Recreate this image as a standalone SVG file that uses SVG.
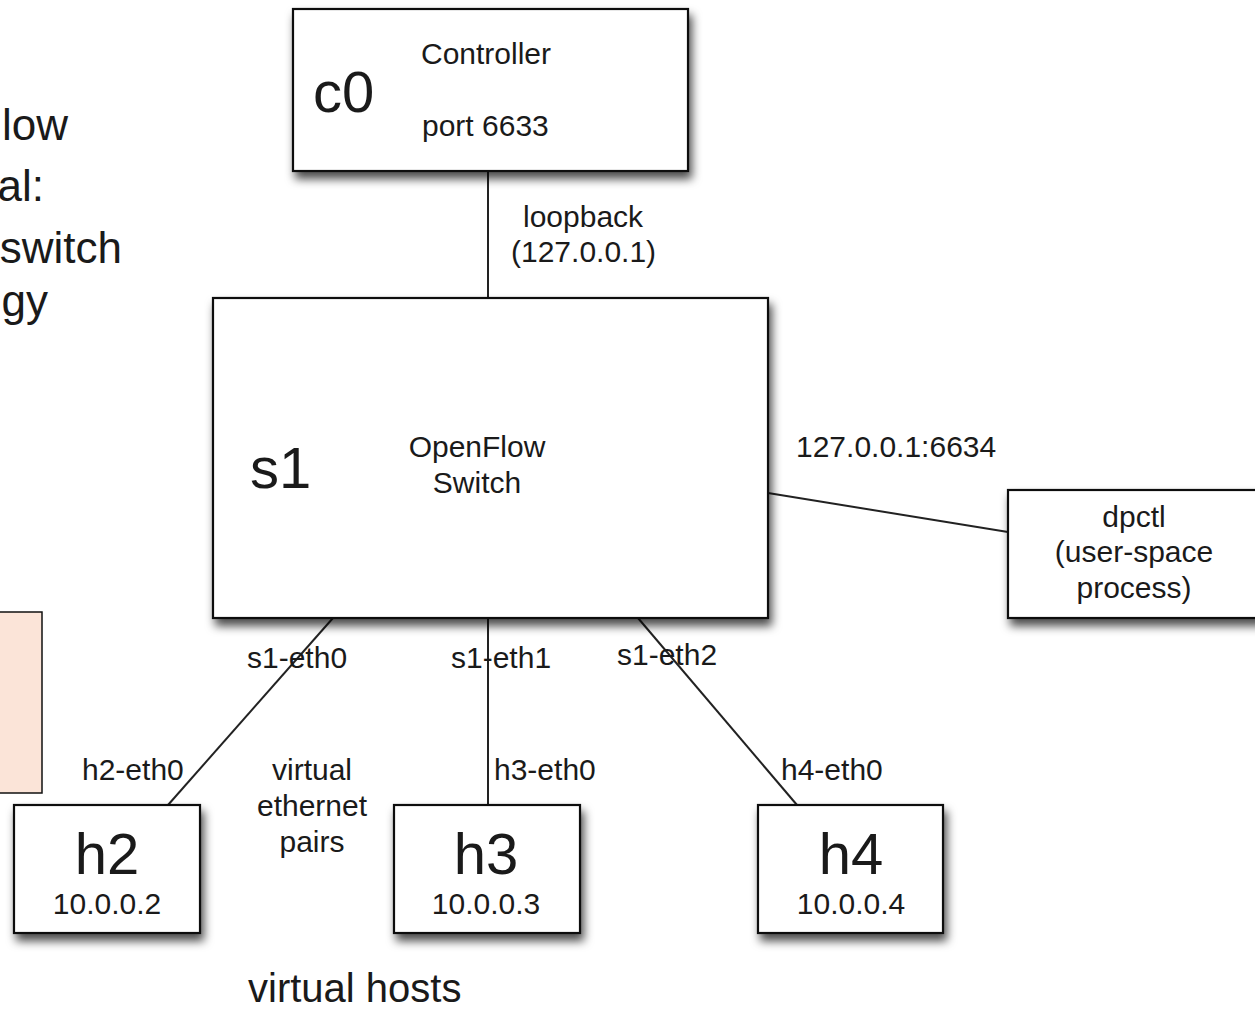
<svg xmlns="http://www.w3.org/2000/svg" width="1255" height="1010" viewBox="0 0 1255 1010">
<style>
text{font-family:"Liberation Sans",Arial,sans-serif;fill:#1a1a1a}
.box{fill:#fff;stroke:#111;stroke-width:2.2;filter:url(#sh)}
.lbl{font-size:30px}
.big{font-size:58px}
.mid{text-anchor:middle}
.side{font-size:44px;text-anchor:end}
.conn line{stroke:#222;stroke-width:2}
</style>
<defs>
<filter id="sh" x="-10%" y="-10%" width="130%" height="140%">
<feDropShadow dx="3" dy="7" stdDeviation="5" flood-color="#000" flood-opacity="0.7"/>
</filter>
</defs>
<rect width="1255" height="1010" fill="#fff"/>
<g id="title">
<text class="side" x="68" y="140">low</text>
<text class="side" x="44" y="201">al:</text>
<text class="side" x="122" y="263">switch</text>
<text class="side" x="48" y="316">gy</text>
</g>
<g id="note">
<rect x="-5" y="612" width="47" height="181" fill="#fbe4d8" stroke="#111" stroke-width="1.5"/>
</g>
<g class="conn" id="connectors">
<line x1="488" y1="171" x2="488" y2="298"/>
<line x1="768" y1="493" x2="1008" y2="532"/>
<line x1="333" y1="618" x2="168" y2="805"/>
<line x1="488" y1="618" x2="488" y2="805"/>
<line x1="638" y1="618" x2="797" y2="805"/>
</g>
<g id="c0">
<rect class="box" x="293" y="9" width="395" height="162"/>
<text class="big" x="313" y="112">c0</text>
<text class="lbl" x="421" y="64">Controller</text>
<text class="lbl" x="422" y="136">port 6633</text>
</g>
<g id="s1">
<rect class="box" x="213" y="298" width="555" height="320"/>
<text class="big" x="250" y="488">s1</text>
<text class="lbl mid" x="477" y="457">OpenFlow</text>
<text class="lbl mid" x="477" y="493">Switch</text>
</g>
<g id="dpctl">
<rect class="box" x="1008" y="490" width="260" height="128"/>
<text class="lbl mid" x="1134" y="527">dpctl</text>
<text class="lbl mid" x="1134" y="562">(user-space</text>
<text class="lbl mid" x="1134" y="598">process)</text>
</g>
<g id="h2">
<rect class="box" x="14" y="805" width="186" height="128"/>
<text class="big mid" x="107" y="874">h2</text>
<text class="lbl mid" x="107" y="914">10.0.0.2</text>
</g>
<g id="h3">
<rect class="box" x="394" y="805" width="186" height="128"/>
<text class="big mid" x="486" y="874">h3</text>
<text class="lbl mid" x="486" y="914">10.0.0.3</text>
</g>
<g id="h4">
<rect class="box" x="758" y="805" width="185" height="128"/>
<text class="big mid" x="851" y="874">h4</text>
<text class="lbl mid" x="851" y="914">10.0.0.4</text>
</g>
<g id="labels">
<text class="lbl" x="523" y="227">loopback</text>
<text class="lbl" x="511" y="262">(127.0.0.1)</text>
<text class="lbl" x="796" y="457">127.0.0.1:6634</text>
<text class="lbl" x="247" y="668">s1-eth0</text>
<text class="lbl" x="451" y="668">s1-eth1</text>
<text class="lbl" x="617" y="665">s1-eth2</text>
<text class="lbl" x="82" y="780">h2-eth0</text>
<text class="lbl" x="494" y="780">h3-eth0</text>
<text class="lbl" x="781" y="780">h4-eth0</text>
<text class="lbl mid" x="312" y="780">virtual</text>
<text class="lbl mid" x="312" y="816">ethernet</text>
<text class="lbl mid" x="312" y="852">pairs</text>
<text x="248" y="1002" style="font-size:40px">virtual hosts</text>
</g>
</svg>
